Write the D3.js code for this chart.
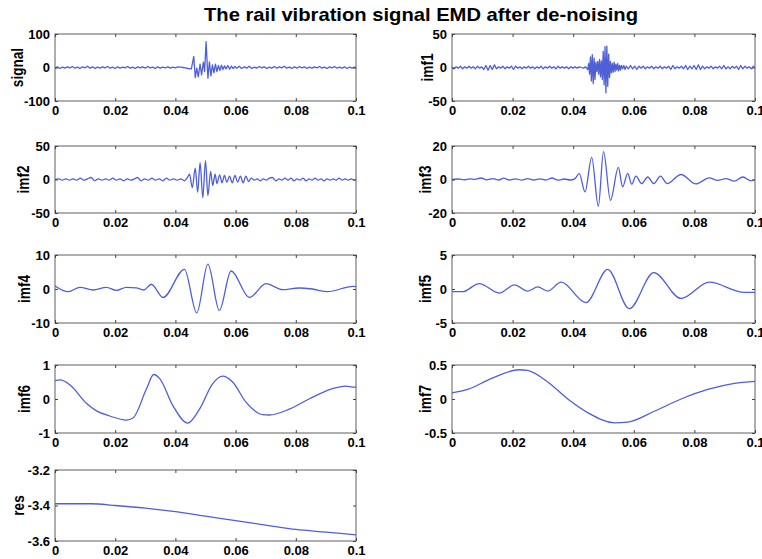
<!DOCTYPE html>
<html>
<head>
<meta charset="utf-8">
<script src="https://cdn.jsdelivr.net/npm/d3@7"></script>
<style>
  body { margin: 0; background: #fff; }
  text { font-family: "Liberation Sans", Arial, sans-serif; font-weight: bold; fill: #000; }
</style>
</head>
<body>
<svg id="chart" width="762" height="559"></svg>
<script>
// time axis is kept in ms, labels are written in seconds
const xTicks = [0, 20, 40, 60, 80, 100];
const xTickLabels = ["0", "0.02", "0.04", "0.06", "0.08", "0.1"];

const signalTicks = [-100, 0, 100];
const imf1Ticks = [-50, 0, 50];
const imf2Ticks = [-50, 0, 50];
const imf3Ticks = [-20, 0, 20];
const imf4Ticks = [-10, 0, 10];
const imf5Ticks = [-5, 0, 5];
const imf6Ticks = [-1, 0, 1];
const imf7Ticks = [-0.5, 0, 0.5];
const resTicks = [-3.6, -3.4, -3.2];

// [t (ms), value]
const signal = [
  [0,-2],[0.8,2],[1.6,-3],[2.5,1],[3.3,-2],[4.1,2],[5,-1],[5.8,3],[6.6,-2],[7.5,1],[8.3,-3],[9.1,2],[10,-1],[10.8,4],
  [11.6,-2],[12.5,2],[13.3,-3],[14.1,1],[15,-2],[15.8,2],[16.6,-1],[17.5,3],[18.3,-2],[19.1,1],[20,-3],[20.8,2],
  [21.6,-2],[22.5,1],[23.3,-1],[24.1,3],[25,-2],[25.8,1],[26.6,-3],[27.5,2],[28.3,-1],[29.1,2],[30,-2],[30.8,3],
  [31.6,-1],[32.5,1],[33.3,-3],[34.1,2],[35,-2],[35.8,1],[36.6,-1],[37.5,2],[38.3,-2],[39.1,1],[40,-1],[40.8,2],
  [41.6,1],[42.5,0],[43.3,-1],[44.2,-3],[45.3,-4],
  [46.1,33],[46.6,-30],[47.1,-2],[47.6,-28],[48.2,10],[48.7,-22],[49.3,16],[49.7,-12],[50.2,77],[50.8,-32],
  [51.3,17],[51.8,-25],[52.3,8],[52.8,-16],[53.3,10],[53.8,-12],[54.3,6],[54.8,-9],[55.3,7],[55.8,-6],[56.3,5],
  [56.8,-4],[57.4,6],[58,-5],[58.6,4],[59.2,-3],[59.8,3],[60.4,-2],
  [61.2,4],[62,-3],[62.9,2],[63.7,-2],[64.5,4],[65.4,-3],[66.2,1],[67,-2],[67.9,3],[68.7,-1],[69.5,2],[70.4,-3],
  [71.2,1],[72,-2],[72.9,3],[73.7,-2],[74.5,2],[75.4,-1],[76.2,4],[77,-2],[77.9,1],[78.7,-3],[79.5,2],[80.4,-2],
  [81.2,3],[82,-1],[82.9,2],[83.7,-3],[84.5,1],[85.4,-2],[86.2,2],[87,-1],[87.9,3],[88.7,-2],[89.5,1],[90.4,-3],
  [91.2,2],[92,-1],[92.9,3],[93.7,-2],[94.5,1],[95.4,-2],[96.2,2],[97,-3],[97.9,1],[98.7,-2],[99.5,1],[100,-1]
];

const imf1 = [
  [0,0],[0.7,-2],[1.4,1],[2.1,-1],[2.8,2],[3.5,-2],[4.2,1],[4.9,-1],[5.6,2],[6.3,-1],[7,1],[7.7,-2],[8.4,2],[9.1,-1],
  [9.8,1],[10.5,-3],[11.2,3],[11.9,-4],[12.6,3],[13.3,-3],[14,4],[14.7,-2],[15.4,1],[16.1,-1],[16.8,2],[17.5,-2],
  [18.2,1],[18.9,-1],[19.6,2],[20.3,-3],[21,2],[21.7,-1],[22.4,1],[23.1,-2],[23.8,1],[24.5,-1],[25.2,2],[25.9,-1],
  [26.6,1],[27.3,-2],[28,1],[28.7,-1],[29.4,2],[30.1,-2],[30.8,1],[31.5,-1],[32.2,2],[32.9,-1],[33.6,1],[34.3,-2],
  [35,2],[35.7,-1],[36.4,1],[37.1,-1],[37.8,1],[38.5,-2],[39.2,1],[39.9,-1],[40.6,1],[41.3,-1],[42,1],[42.7,0],
  [43.4,-1],[44.1,1],
  [44.8,-3],[45.1,6],[45.4,-10],[45.7,16],[46,-20],[46.3,19],[46.6,-24],[46.9,14],[47.2,-18],[47.5,8],[47.8,-6],
  [48.1,9],[48.4,-10],[48.7,12],[49,-14],[49.3,10],[49.6,-18],[49.9,24],[50.2,-26],[50.5,31],[50.8,-38],[51.1,32],
  [51.4,-28],[51.7,20],[52,-15],[52.3,9],[52.6,-8],[52.9,6],[53.2,-7],[53.5,8],[53.8,-6],[54.1,5],[54.4,-4],
  [54.7,6],[55,-5],[55.3,3],[55.6,-4],[55.9,3],[56.3,-2],[56.7,3],[57.1,-3],[57.5,2],
  [58.2,-2],[58.9,3],[59.6,-2],[60.3,2],[61,-3],[61.7,2],[62.4,-1],[63.1,2],[63.8,-2],[64.5,1],[65.2,-1],[65.9,2],
  [66.6,-2],[67.3,1],[68,-1],[68.7,2],[69.4,-2],[70.1,1],[70.8,-1],[71.5,2],[72.2,-3],[72.9,3],[73.6,-2],[74.3,1],
  [75,-1],[75.7,2],[76.4,-2],[77.1,3],[77.8,-3],[78.5,2],[79.2,-2],[79.9,3],[80.6,-3],[81.3,4],[82,-3],[82.7,2],
  [83.4,-2],[84.1,1],[84.8,-1],[85.5,2],[86.2,-2],[86.9,1],[87.6,-1],[88.3,2],[89,-2],[89.7,3],[90.4,-2],[91.1,1],
  [91.8,-2],[92.5,2],[93.2,-1],[93.9,2],[94.6,-3],[95.3,3],[96,-2],[96.7,2],[97.4,-1],[98.1,1],[98.8,-2],[99.5,2],[100,0]
];

const imf2 = [
  [0,0],[1.2,1],[2.4,-1],[3.6,1],[4.8,-1],[6,1],[7.2,-1],[8.4,2],[9.6,-1],[10.8,1],[12,3],[13.2,-2],[14.4,1],
  [15.6,-1],[16.8,1],[18,-1],[19.2,2],[20.4,-1],[21.6,1],[22.8,-2],[24,1],[25.2,-1],[26.4,1],[27.4,3],[28.6,-2],
  [29.8,1],[31,-1],[32.2,2],[33.4,-1],[34.6,1],[35.8,-2],[37,2],[38.2,-1],[39.4,1],[40.6,-1],[41.8,1],[43,-2],
  [44,3],[44.7,8],[45.6,-12],[46.6,17],[47.4,-19],[48.2,25],[49.1,-27],[50,28],[50.8,-24],[51.7,12],[52.4,-9],
  [53.2,8],[53.8,-6],[54.7,7],[55.5,-5],[56.3,6],[57.1,-4],[58,5],[58.9,-5],[59.8,6],[60.7,-4],[61.6,5],[62.5,-5],
  [63.4,5],[64.3,-3],[65.2,2],[66.2,-1],[67.2,1],[68.2,-2],[69.2,1],[70.2,-1],[71.2,2],[72.2,3],[73.4,-2],[74.4,1],
  [75.4,-1],[76.4,2],[77.4,-1],[78.4,2],[79.4,-2],[80.4,1],[81.4,-1],[82.4,2],[83.4,-2],[84.4,1],[85.4,-1],[86.4,2],
  [87.4,-1],[88.4,1],[89.4,-2],[90.4,1],[91.4,-1],[92.4,1],[93.4,-1],[94.4,2],[95.4,-1],[96.4,1],[97.4,-1],
  [98.4,1],[99.4,-1],[100,0]
];

const imf3 = [
  [0,0],[2,0.3],[4,-0.2],[6,0.4],[7.5,0.1],[9.6,0.9],[11.5,-0.2],[13.5,0.5],[15.5,-0.3],[17,0.8],[19,-0.3],[21,0.4],
  [23,-0.4],[25,0.5],[27,-0.3],[29,0.4],[31,-0.3],[33,0.9],[35,-0.4],[37,0.3],[39,-0.3],[40.5,0.4],[42,3.5],
  [43.9,-7.4],[46.1,13.2],[48.3,-16],[50,16.6],[52.3,-12.4],[54.9,7.2],[56.3,-4.4],[58,3.6],[59.3,-2.8],[60.7,2],
  [62.6,-2.5],[64.6,1.5],[66.6,-2.5],[68.8,2],[71,-2.5],[75.6,3],[80.5,-2.6],[84.9,1],[87.7,-0.5],[90.4,0.5],
  [93.2,-1],[96,1.5],[98.7,-0.8],[100,0]
];

const imf4 = [
  [0,0.9],[4.4,-0.8],[8.3,0.5],[12.7,-0.3],[17.1,0.5],[20.4,-0.4],[23.7,0.5],[27,0.3],[29.5,-0.3],[32,1.4],
  [35.9,-2.5],[43,5.8],[47.1,-7],[50.8,7.3],[54.6,-6.3],[58.5,5.3],[64.6,-2.5],[70.1,1.6],[75.6,-0.2],[81,0.3],
  [85.5,0],[90.5,-0.8],[99,0.8],[100,0.7]
];

const imf5 = [
  [0,-0.4],[3.5,-0.4],[9,0.8],[15.6,-0.6],[20.6,0.6],[25,-0.3],[28.3,0.3],[31.6,-0.3],[36,1],[44.2,-2],
  [51.4,2.9],[58.5,-2.9],[66.6,2.4],[75.6,-1.4],[84.9,1],[96.5,-0.5],[100,-0.5]
];

const imf6 = [
  [0,0.54],[1.7,0.56],[5,0.41],[10.5,-0.13],[13.8,-0.35],[18.2,-0.5],[23.7,-0.62],[26,-0.55],[30.4,0.3],
  [32.8,0.72],[34.8,0.6],[39.2,-0.2],[44.1,-0.71],[48,-0.3],[52.4,0.45],[55.7,0.67],[59,0.5],[63.5,-0.1],
  [69,-0.46],[71.2,-0.47],[77.8,-0.3],[84.4,0],[92,0.3],[96.6,0.38],[99.3,0.35],[100,0.36]
];

const imf7 = [
  [0,0.09],[5.2,0.14],[12.9,0.3],[22.2,0.43],[24.9,0.42],[31.6,0.25],[38.2,0],[44.8,-0.2],[53.6,-0.35],
  [58,-0.34],[66.8,-0.18],[75.6,0],[84.4,0.14],[93.2,0.23],[100,0.26]
];

const res = [
  [0,-3.39],[5,-3.39],[12,-3.39],[20,-3.4],[30,-3.415],[40,-3.435],[50,-3.46],[60,-3.485],[70,-3.51],
  [80,-3.535],[90,-3.55],[100,-3.565]
];

const panels = [
  { name: "signal", pts: signal, ticks: signalTicks, col: 0, row: 0, smooth: false, labelDx: 38 },
  { name: "imf1",   pts: imf1,   ticks: imf1Ticks,   col: 1, row: 0, smooth: false, labelDx: 25 },
  { name: "imf2",   pts: imf2,   ticks: imf2Ticks,   col: 0, row: 1, smooth: true,  labelDx: 32 },
  { name: "imf3",   pts: imf3,   ticks: imf3Ticks,   col: 1, row: 1, smooth: true,  labelDx: 27 },
  { name: "imf4",   pts: imf4,   ticks: imf4Ticks,   col: 0, row: 2, smooth: true,  labelDx: 31 },
  { name: "imf5",   pts: imf5,   ticks: imf5Ticks,   col: 1, row: 2, smooth: true,  labelDx: 27 },
  { name: "imf6",   pts: imf6,   ticks: imf6Ticks,   col: 0, row: 3, smooth: true,  labelDx: 31 },
  { name: "imf7",   pts: imf7,   ticks: imf7Ticks,   col: 1, row: 3, smooth: true,  labelDx: 27 },
  { name: "res",    pts: res,    ticks: resTicks,    col: 0, row: 4, smooth: true,  labelDx: 37 }
];

const cols = [{ x0: 55, x1: 356 }, { x0: 452, x1: 755 }];
const rows = [[34, 101], [146, 213], [255, 323], [365, 433], [470, 541]];

const svg = d3.select("#chart");

svg.append("text")
  .attr("x", 421)
  .attr("y", 21)
  .attr("text-anchor", "middle")
  .attr("textLength", 434)
  .attr("lengthAdjust", "spacingAndGlyphs")
  .style("font-size", "18.5px")
  .text("The rail vibration signal EMD after de-noising");

panels.forEach(p => {
  const c = cols[p.col], r = rows[p.row];
  const x = d3.scaleLinear().domain([0, 100]).range([c.x0, c.x1]);
  const y = d3.scaleLinear().domain(d3.extent(p.ticks)).range([r[1], r[0]]);
  const g = svg.append("g");

  // plot box
  g.append("rect")
    .attr("x", c.x0).attr("y", r[0])
    .attr("width", c.x1 - c.x0).attr("height", r[1] - r[0])
    .attr("fill", "none")
    .attr("stroke", "#858585")
    .attr("stroke-width", 1.3);

  // the curve
  const line = d3.line()
    .x(d => x(d[0]))
    .y(d => y(d[1]))
    .curve(p.smooth ? d3.curveMonotoneX : d3.curveLinear);

  g.append("path")
    .datum(p.pts)
    .attr("d", line)
    .attr("fill", "none")
    .attr("stroke", "#4f5fd6")
    .attr("stroke-width", 1.3)
    .attr("stroke-linejoin", "round");

  // axes, ticks pointing inwards like matlab
  const bottom = g.append("g")
    .attr("transform", `translate(0,${r[1]})`)
    .call(d3.axisBottom(x).tickValues(xTicks).tickFormat((d, i) => xTickLabels[i])
      .tickSizeInner(-3).tickSizeOuter(0).tickPadding(5));
  const top = g.append("g")
    .attr("transform", `translate(0,${r[0]})`)
    .call(d3.axisTop(x).tickValues(xTicks).tickFormat("").tickSizeInner(-3).tickSizeOuter(0));
  const left = g.append("g")
    .attr("transform", `translate(${c.x0},0)`)
    .call(d3.axisLeft(y).tickValues(p.ticks).tickFormat(d => String(d))
      .tickSizeInner(-3).tickSizeOuter(0).tickPadding(5));
  const right = g.append("g")
    .attr("transform", `translate(${c.x1},0)`)
    .call(d3.axisRight(y).tickValues(p.ticks).tickFormat("").tickSizeInner(-3).tickSizeOuter(0));

  [bottom, top, left, right].forEach(a => {
    a.select(".domain").remove();
    a.selectAll(".tick line").attr("stroke", "#444");
    a.selectAll(".tick text")
      .style("font-family", '"Liberation Sans", Arial, sans-serif')
      .style("font-weight", "bold")
      .style("font-size", "13px")
      .attr("fill", "#000");
  });

  // y label
  g.append("text")
    .attr("transform", `translate(${c.x0 - p.labelDx},${(r[0] + r[1]) / 2}) rotate(-90) scale(0.8,1)`)
    .attr("text-anchor", "middle")
    .attr("dy", "0.35em")
    .style("font-size", "17px")
    .text(p.name);
});
</script>
</body>
</html>
